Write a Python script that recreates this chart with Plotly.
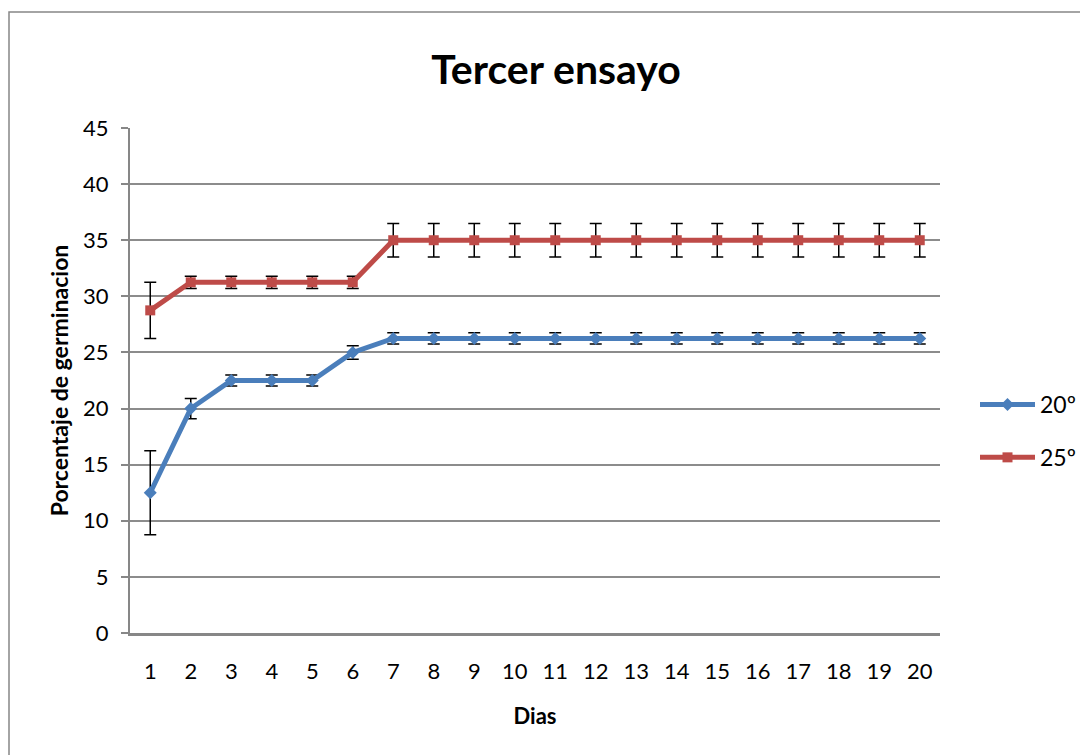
import plotly.graph_objects as go

dias = list(range(1, 21))
serie_20 = [12.5, 20, 22.5, 22.5, 22.5, 25] + [26.25] * 14
err_20 = [3.75, 0.9, 0.5, 0.5, 0.5, 0.6] + [0.5] * 14
serie_25 = [28.75, 31.25, 31.25, 31.25, 31.25, 31.25] + [35] * 14
err_25 = [2.5, 0.55, 0.55, 0.55, 0.55, 0.55] + [1.5] * 14
y_ticks = [0, 5, 10, 15, 20, 25, 30, 35, 40, 45]

FONT = "Lato"
W, H = 1088, 755
OFF = 8  # page body margin
PL, PT, PW, PH = 130, 128, 810, 505  # target plot area in window pixels
ML = PL - OFF
MT = PT - OFF
MR = W - ML - PW
MB = H - MT - PH

fig = go.Figure()
fig.add_trace(go.Scatter(
    x=dias, y=serie_20, name="20º", mode="lines+markers",
    line=dict(color="#4A7EBB", width=5),
    marker=dict(symbol="diamond", size=10, color="#4A7EBB"),
    error_y=dict(type="data", array=err_20, visible=True, color="black", thickness=1.5, width=6),
    legendgroup="a",
))
fig.add_trace(go.Scatter(
    x=dias, y=serie_25, name="25º", mode="lines+markers",
    line=dict(color="#BE4B48", width=5),
    marker=dict(symbol="square", size=10, color="#BE4B48"),
    error_y=dict(type="data", array=err_25, visible=True, color="black", thickness=1.5, width=6),
    legendgroup="b",
))

# outer chart border (window px -> paper coords)
def px_x(wx):
    return (wx - PL) / PW

def px_y(wy):
    return 1 - (wy - PT) / PH

fig.add_shape(type="rect", xref="paper", yref="paper",
              x0=px_x(9), x1=px_x(W + 20), y0=px_y(H + 20), y1=px_y(12),
              line=dict(color="#878787", width=1.5), layer="below")

fig.update_layout(
    width=W, height=H,
    margin=dict(l=ML, r=MR, t=MT, b=MB),
    paper_bgcolor="white", plot_bgcolor="white",
    font=dict(family=FONT, size=22, color="black"),
    title=dict(text="<b>Tercer ensayo</b>", x=(556 - OFF) / W, xanchor="center",
               y=1 - (70 - OFF) / H, yanchor="middle",
               font=dict(family=FONT, size=41, color="black")),
    showlegend=True,
    legend=dict(x=px_x(975), xanchor="left", y=px_y(431), yanchor="middle",
                font=dict(family=FONT, size=23), tracegroupgap=20,
                itemwidth=55, bgcolor="rgba(0,0,0,0)"),
    xaxis=dict(range=[0.5, 20.5], tickmode="array", tickvals=dias,
               ticktext=[str(d) for d in dias], showgrid=False,
               showline=True, linecolor="#878787", linewidth=2.5,
               ticks="", zeroline=False, ticklabelstandoff=17,
               title=dict(text="<b>Dias</b>", font=dict(family=FONT, size=22), standoff=26),
               tickfont=dict(family=FONT, size=22)),
    yaxis=dict(range=[0, 45], tickmode="array", tickvals=y_ticks,
               showgrid=True, gridcolor="#8C8C8C", gridwidth=1.5,
               showline=True, linecolor="#878787", linewidth=2,
               ticks="outside", ticklen=7, tickcolor="#878787", tickwidth=1.5,
               zeroline=False, ticklabelstandoff=8,
               title=dict(text="<b>Porcentaje de germinacion</b>", font=dict(family=FONT, size=23), standoff=8),
               tickfont=dict(family=FONT, size=22)),
)

fig.write_html("out.html")
